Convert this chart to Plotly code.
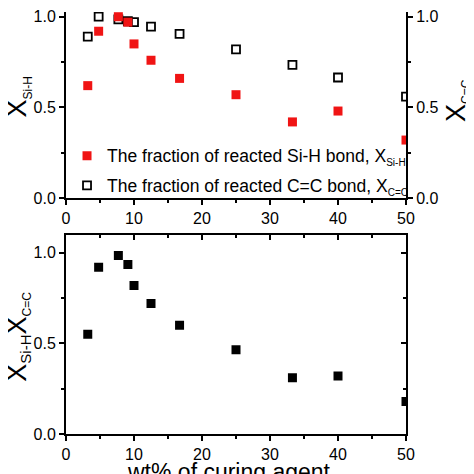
import plotly.graph_objects as go

# data
wt_curing = [3.2, 4.8, 7.7, 9.1, 10.0, 12.5, 16.7, 25.0, 33.3, 40.0, 50.0]
x_sih = [0.62, 0.92, 1.0, 0.97, 0.85, 0.76, 0.66, 0.57, 0.42, 0.48, 0.32]
x_cc = [0.89, 1.0, 0.985, 0.975, 0.97, 0.945, 0.905, 0.82, 0.735, 0.665, 0.56]
x_product = [0.55, 0.92, 0.985, 0.935, 0.82, 0.72, 0.60, 0.465, 0.31, 0.32, 0.18]

x_ticks = [0, 10, 20, 30, 40, 50]
y_ticks = [0.0, 0.5, 1.0]
y_ticklabels = ["0.0", "0.5", "1.0"]

FONT = "Arial, Liberation Sans, sans-serif"
RED = "#f01414"


def sub(s, size):
    return '<sub><span style="font-size:%dpx">%s</span></sub>' % (size, s)


def main():
    fig = go.Figure()

    # black open squares (C=C) go under the red ones
    fig.add_trace(go.Scatter(
        x=wt_curing, y=x_cc, mode="markers", xaxis="x", yaxis="y",
        name="The fraction of reacted C=C bond, X" + sub("C=C", 10),
        legendgroup="b", legendrank=2,
        marker=dict(symbol="square-open", size=8, color="black",
                    line=dict(width=1.8, color="black")),
    ))
    fig.add_trace(go.Scatter(
        x=wt_curing, y=x_sih, mode="markers", xaxis="x", yaxis="y2",
        name="The fraction of reacted Si-H bond, X" + sub("Si-H", 10),
        legendgroup="a", legendrank=1,
        marker=dict(symbol="square", size=9, color=RED),
    ))
    fig.add_trace(go.Scatter(
        x=wt_curing, y=x_product, mode="markers", xaxis="x2", yaxis="y3",
        showlegend=False,
        marker=dict(symbol="square", size=9, color="black"),
    ))
    # dummy traces so the mirror axes are drawn
    fig.add_trace(go.Scatter(x=[None], y=[None], xaxis="x3", yaxis="y3",
                             showlegend=False, hoverinfo="skip"))
    fig.add_trace(go.Scatter(x=[None], y=[None], xaxis="x2", yaxis="y4",
                             showlegend=False, hoverinfo="skip"))

    axis_common = dict(
        showline=True, linecolor="black", linewidth=2,
        ticks="outside", ticklen=5, tickwidth=2, tickcolor="black",
        showgrid=False, zeroline=False, ticklabeloverflow="allow",
        tickfont=dict(family=FONT, size=16, color="black"),
    )
    xcommon = dict(axis_common, range=[0, 50], tickvals=x_ticks,
                   minor=dict(dtick=5, tick0=0, ticks="outside", ticklen=3,
                              tickwidth=2, tickcolor="black"))
    ycommon = dict(axis_common, tickvals=y_ticks, ticktext=y_ticklabels,
                   minor=dict(dtick=0.25, tick0=0, ticks="outside", ticklen=3,
                              tickwidth=2, tickcolor="black"))

    # page body adds an 8px offset, so margins are shifted to compensate
    top_dom = [0.559, 1.0]
    bot_dom = [0.0, 0.4722]

    fig.update_layout(
        width=474, height=474,
        margin=dict(l=58, r=76, t=0, b=48),
        paper_bgcolor="white", plot_bgcolor="white",
        font=dict(family=FONT, color="black"),
        xaxis=dict(xcommon, domain=[0, 1], anchor="y"),
        yaxis=dict(ycommon, domain=top_dom, range=[0, 1.026], anchor="x"),
        yaxis2=dict(ycommon, range=[0, 1.026], overlaying="y", side="right",
                    anchor="x"),
        xaxis2=dict(xcommon, domain=[0, 1], anchor="y3"),
        yaxis3=dict(ycommon, domain=bot_dom, range=[0, 1.1], anchor="x2"),
        # mirrored frame of the lower panel, ticks pointing in
        xaxis3=dict(xcommon, overlaying="x2", side="top", anchor="y3",
                    ticks="inside", showticklabels=False,
                    minor=dict(dtick=5, tick0=0, ticks="inside", ticklen=3,
                               tickwidth=2, tickcolor="black")),
        yaxis4=dict(ycommon, range=[0, 1.1], overlaying="y3", side="right",
                    anchor="x2", ticks="inside", showticklabels=False,
                    minor=dict(dtick=0.25, tick0=0, ticks="inside", ticklen=3,
                               tickwidth=2, tickcolor="black")),
        legend=dict(
            x=0.003, y=0.702, xanchor="left", yanchor="top",
            bgcolor="rgba(0,0,0,0)", borderwidth=0,
            traceorder="grouped", tracegroupgap=4,
            itemwidth=30,
            font=dict(family=FONT, size=17.5, color="black"),
        ),
    )

    titles = [
        ("X" + sub("Si-H", 12), -0.140, 0.7985),
        ("X" + sub("C=C", 12), 1.151, 0.7900),
        ("X" + sub("Si-H", 15) + "X" + sub("C=C", 12), -0.139, 0.230),
    ]
    for text, ax, ay in titles:
        fig.add_annotation(text=text, xref="paper", yref="paper", x=ax, y=ay,
                           xanchor="center", yanchor="middle", textangle=-90,
                           showarrow=False,
                           font=dict(family=FONT, size=27, color="black"))
    fig.add_annotation(text="wt% of curing agent", xref="paper", yref="paper",
                       x=0.48, y=-0.089, xanchor="center", yanchor="middle",
                       showarrow=False,
                       font=dict(family=FONT, size=23, color="black"))

    fig.write_html("out.html")


if __name__ == "__main__":
    main()
